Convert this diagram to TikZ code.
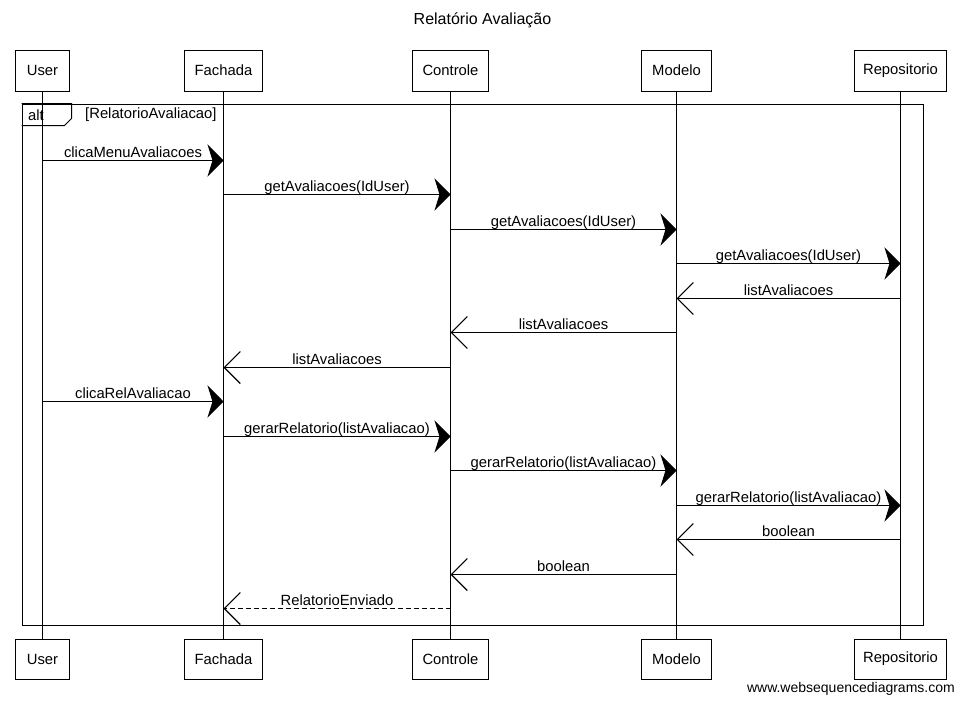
\documentclass[tikz,border=0pt]{standalone}
\usepackage{fontspec}
\setmainfont{Liberation Sans}
\usetikzlibrary{arrows.meta}

% one message between two lifelines at height #4, labelled #5
\newcommand\sdmsg[5]{%
  \draw[#1] (#2 |- 0,#4) -- node[msglabel]{#5} (#3 |- 0,#4);}

\begin{document}
\begin{tikzpicture}[x=1pt,y=-1pt,
  every node/.style={font=\fontsize{14.8}{17}\selectfont},
  actor/.style={draw, line width=1pt, inner sep=0pt},
  lifeline/.style={line width=1pt},
  call/.style={line width=1pt, -{Stealth[length=16pt,width=32pt,inset=5pt]}},
  reply/.style={line width=1pt, -{Straight Barb[length=16pt,width=32pt,line width=1.1pt]}},
  dreply/.style={reply, dash pattern=on 5pt off 3pt},
  msglabel/.style={anchor=south, inner sep=2.5pt, text depth=0pt},
  framebox/.style={draw, line width=1pt, inner sep=0pt},
]
\useasboundingbox (0,0) rectangle (963,704);

% title
\node (title) at (482.5,20) {\fontsize{16}{19}\selectfont Relatório Avaliação};

% participants, top and bottom
\foreach \nm/\lbl/\cx/\w in {u/User/42.5/54, f/Fachada/223.5/78, c/Controle/450.5/76,
                             m/Modelo/676.5/70, r/Repositorio/900.5/92}{
  \node[actor, minimum width=\w pt, minimum height=41pt] (\nm Top) at (\cx,70.5) {\lbl};
  \node[actor, minimum width=\w pt, minimum height=40pt] (\nm Bot) at (\cx,659) {\lbl};
}

% lifelines
\foreach \nm in {u,f,c,m,r}{
  \draw[lifeline] (\nm Top) -- (\nm Bot);
}

% alt fragment
\node[framebox, minimum width=901pt, minimum height=521pt] (alt) at (472.5,364.5) {};
\draw[line width=1pt] (alt.north west) -- ++(50,0) -- ++(0,15) -- ++(-7,7) -- ++(-43,0);
\node[anchor=west, inner sep=0pt] (altTag) at (28,115) {alt};
\node[anchor=west, inner sep=0pt] (altGuard) at (85,115) {[RelatorioAvaliacao]};

% messages
\sdmsg{call}{uTop}{fTop}{160.5}{clicaMenuAvaliacoes}
\sdmsg{call}{fTop}{cTop}{194.5}{getAvaliacoes(IdUser)}
\sdmsg{call}{cTop}{mTop}{229.5}{getAvaliacoes(IdUser)}
\sdmsg{call}{mTop}{rTop}{263.5}{getAvaliacoes(IdUser)}
\sdmsg{reply}{rTop}{mTop}{298.5}{listAvaliacoes}
\sdmsg{reply}{mTop}{cTop}{332.5}{listAvaliacoes}
\sdmsg{reply}{cTop}{fTop}{367.5}{listAvaliacoes}
\sdmsg{call}{uTop}{fTop}{401.5}{clicaRelAvaliacao}
\sdmsg{call}{fTop}{cTop}{436.5}{gerarRelatorio(listAvaliacao)}
\sdmsg{call}{cTop}{mTop}{470.5}{gerarRelatorio(listAvaliacao)}
\sdmsg{call}{mTop}{rTop}{505.5}{gerarRelatorio(listAvaliacao)}
\sdmsg{reply}{rTop}{mTop}{539.5}{boolean}
\sdmsg{reply}{mTop}{cTop}{574.5}{boolean}
\sdmsg{dreply}{cTop}{fTop}{608.5}{RelatorioEnviado}

% footer
\node[anchor=east, inner sep=0pt, font=\fontsize{14}{16}\selectfont] (footer) at (955,689) {www.websequencediagrams.com};
\end{tikzpicture}
\end{document}
